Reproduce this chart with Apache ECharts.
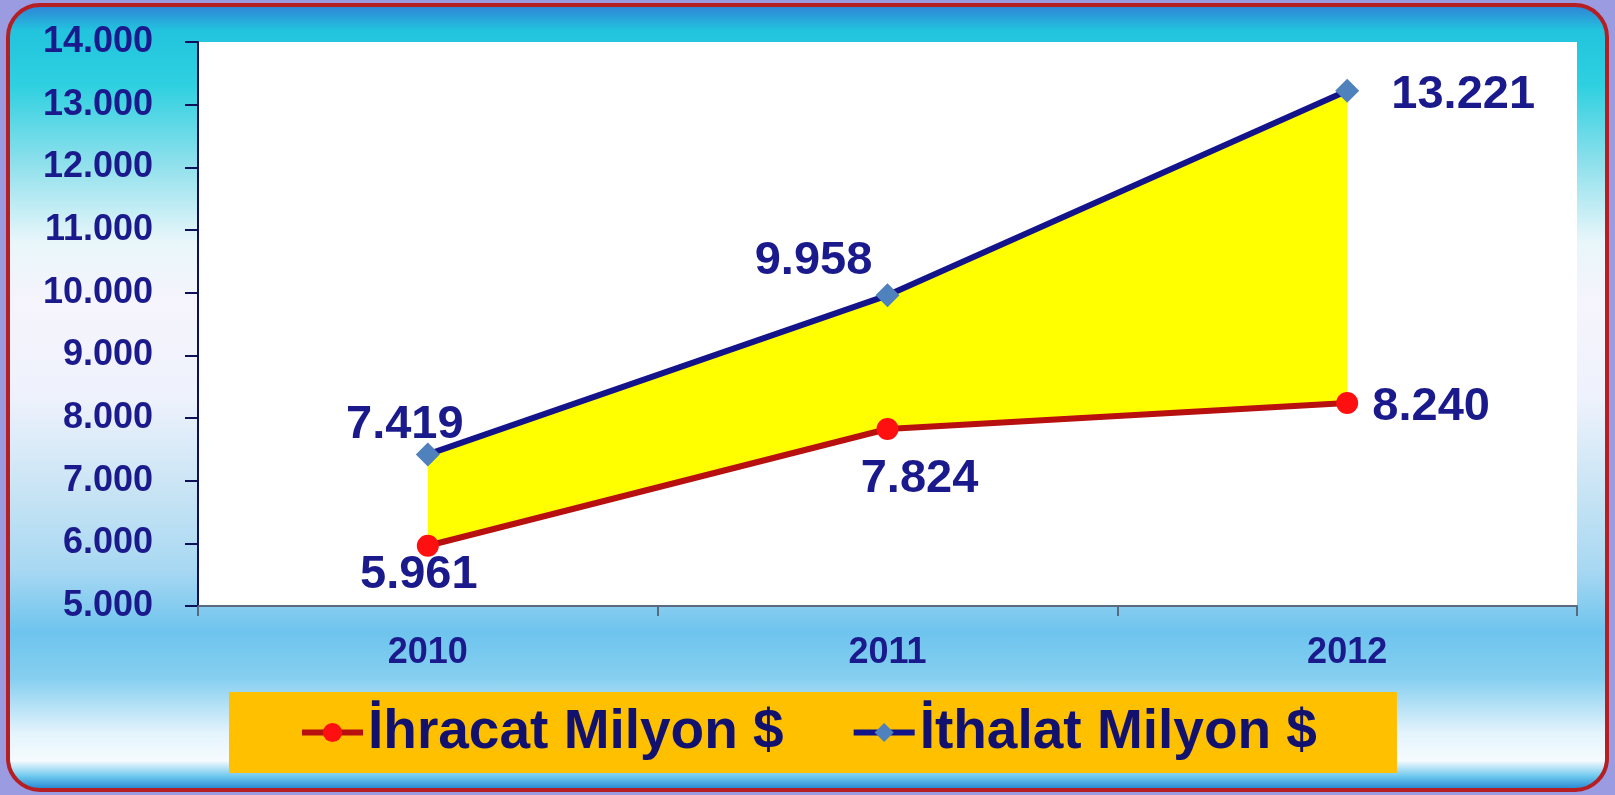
<!DOCTYPE html>
<html>
<head>
<meta charset="utf-8">
<script src="https://cdn.jsdelivr.net/npm/echarts@6/dist/echarts.min.js"></script>
<style>
  html, body { margin: 0; padding: 0; }
  body { width: 1615px; height: 795px; background: #9a9be0; position: relative; overflow: hidden; }
  #frame {
    position: absolute; left: 6px; top: 3px; width: 1603px; height: 789px;
    box-sizing: border-box; border: 4px solid #b51f24; border-radius: 34px;
    background: linear-gradient(to bottom,
      #2f86d6 0%, #22c4de 3%, #2ed0e0 10%, #8ee0ec 20%, #e8f6fa 30%, #f6f4fc 38%,
      #eef2fc 50%, #c8e4f4 62%, #a8d8f2 72%, #6ec4ee 80%, #86cff0 86%,
      #e4f4fc 93%, #f6fbfe 96.5%, #6ec8ee 98.5%, #2c8cd4 100%);
  }
  #chart { position: absolute; left: 0; top: 0; width: 1615px; height: 795px; }
</style>
</head>
<body>
<div id="frame"></div>
<div id="chart"></div>
<script>
// veriler
const years = ['2010', '2011', '2012'];
const ihracat = [5961, 7824, 8240];
const ithalat = [7419, 9958, 13221];

// etiket kaymalari (sadece yerlesim)
const ihracatLabelOffsets = [[-9, 29], [32, 50], [84, 4]];
const ithalatLabelOffsets = [[-23, -29], [-74, -34], [116, 4]];

function fmt(v) {
    return String(v).replace(/\B(?=(\d{3})+(?!\d))/g, '.');
}

var chartDom = document.getElementById('chart');
var myChart = echarts.init(chartDom, null, { renderer: 'canvas' });

const navy = '#14148a';
const labelStyle = {
    show: true,
    position: 'inside',
    fontFamily: 'Liberation Sans, Arial, sans-serif',
    fontWeight: 'bold',
    fontSize: 47,
    color: '#1a1a8c',
    formatter: (p) => fmt(p.value)
};

function withLabels(values, offsets) {
    return values.map((v, i) => ({ value: v, label: { offset: offsets[i] } }));
}

var option = {
    backgroundColor: 'transparent',
    animation: false,
    grid: {
        left: 198, top: 42, right: 38, bottom: 189,
        show: true, backgroundColor: '#ffffff', borderWidth: 0
    },
    legend: {
        data: ['İhracat Milyon $', 'İthalat Milyon $'],
        left: 229, top: 692,
        backgroundColor: '#ffc000',
        padding: [13, 80, 13, 70],
        itemGap: 67,
        itemWidth: 61,
        itemHeight: 24,
        lineStyle: { width: 6 },
        textStyle: {
            fontFamily: 'Liberation Sans, Arial, sans-serif',
            fontWeight: 'bold',
            fontSize: 55,
            color: '#12126e'
        }
    },
    xAxis: {
        type: 'category',
        data: years,
        boundaryGap: true,
        axisLine: { lineStyle: { color: '#5a6a7e', width: 2 } },
        axisTick: { show: true, length: 10, lineStyle: { color: '#5a6a7e', width: 2 } },
        axisLabel: {
            margin: 29,
            fontFamily: 'Liberation Sans, Arial, sans-serif',
            fontWeight: 'bold',
            fontSize: 36,
            color: '#1a1a8c'
        },
        splitLine: { show: false }
    },
    yAxis: {
        type: 'value',
        min: 5000, max: 14000, interval: 1000,
        axisLine: { show: true, lineStyle: { color: '#10105a', width: 2 } },
        axisTick: { show: true, length: 13, lineStyle: { color: '#10105a', width: 2 } },
        axisLabel: {
            margin: 45,
            fontFamily: 'Liberation Sans, Arial, sans-serif',
            fontWeight: 'bold',
            fontSize: 36,
            color: '#1a1a8c',
            formatter: (v) => fmt(v)
        },
        splitLine: { show: false }
    },
    series: [
        {
            name: 'alt',
            type: 'line',
            stack: 'bant',
            data: ihracat,
            symbol: 'none',
            lineStyle: { width: 0, opacity: 0 },
            silent: true,
            z: 1
        },
        {
            name: 'bant',
            type: 'line',
            stack: 'bant',
            data: ithalat.map((v, i) => v - ihracat[i]),
            symbol: 'none',
            lineStyle: { width: 0, opacity: 0 },
            areaStyle: { color: '#ffff00', opacity: 1 },
            silent: true,
            z: 1
        },
        {
            name: 'İhracat Milyon $',
            type: 'line',
            data: withLabels(ihracat, ihracatLabelOffsets),
            symbol: 'circle',
            symbolSize: 22,
            lineStyle: { color: '#b80f0f', width: 6 },
            itemStyle: { color: '#ff1010' },
            label: labelStyle,
            z: 3
        },
        {
            name: 'İthalat Milyon $',
            type: 'line',
            data: withLabels(ithalat, ithalatLabelOffsets),
            symbol: 'diamond',
            symbolSize: 24,
            lineStyle: { color: navy, width: 6 },
            itemStyle: { color: '#4f81bd' },
            label: labelStyle,
            z: 3
        }
    ]
};

option && myChart.setOption(option);
</script>
</body>
</html>
